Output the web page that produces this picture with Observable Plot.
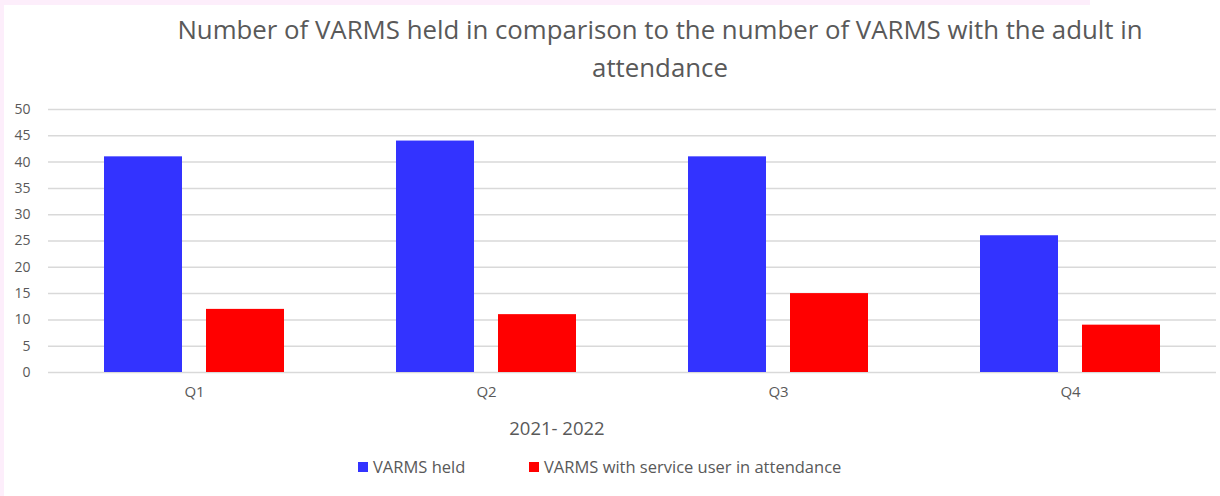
<!DOCTYPE html>
<html>
<head>
<meta charset="utf-8">
<script src="https://cdn.jsdelivr.net/npm/d3@7"></script>
<script src="https://cdn.jsdelivr.net/npm/@observablehq/plot@0.6"></script>
<style>
  html, body { margin: 0; padding: 0; background: #ffffff; }
  #page { position: relative; width: 1220px; height: 496px; overflow: hidden; font-family: "Open Sans", sans-serif; color: #595959; }
  #stripTop { position: absolute; left: 0; top: 0; width: 1090px; height: 5px; background: #fdeefb; }
  #stripLeft { position: absolute; left: 0; top: 0; width: 4px; height: 496px; background: #fdeefb; }
  #title { position: absolute; left: 110px; width: 1100px; top: 10px; text-align: center; font-size: 25.8px; line-height: 38px; color: #595959; }
  #chart { position: absolute; left: 0; top: 95px; }
  #xtitle { position: absolute; left: 457px; width: 200px; top: 415px; text-align: center; font-size: 18.5px; line-height: 25px; color: #595959; }
  #legend { position: absolute; top: 456px; left: 358px; font-size: 16.5px; line-height: 22px; color: #595959; white-space: nowrap; }
  .item { position: absolute; top: 0; display: flex; align-items: center; }
  .sw { width: 10px; height: 10px; margin-right: 5px; display: inline-block; }
</style>
</head>
<body>
<div id="page">
  <div id="stripTop"></div>
  <div id="stripLeft"></div>
  <div id="title">Number of VARMS held in comparison to the number of VARMS with the adult in<br>attendance</div>
  <div id="chart"></div>
  <div id="xtitle">2021- 2022</div>
  <div id="legend"></div>
</div>
<script>
const quarters = ["Q1", "Q2", "Q3", "Q4"];
const seriesNames = ["VARMS held", "VARMS with service user in attendance"];
const varmsHeld = [41, 44, 41, 26];
const varmsAttended = [12, 11, 15, 9];
const seriesColors = ["#3333ff", "#ff0000"];
const yTicks = [0, 5, 10, 15, 20, 25, 30, 35, 40, 45, 50];

const data = [];
quarters.forEach((q, i) => {
  data.push({quarter: q, series: seriesNames[0], value: varmsHeld[i]});
  data.push({quarter: q, series: seriesNames[1], value: varmsAttended[i]});
});

const chart = Plot.plot({
  width: 1220,
  height: 317,
  marginTop: 14,
  marginBottom: 40,
  marginLeft: 48,
  marginRight: 4,
  style: {fontFamily: "'Open Sans', sans-serif", fontSize: "14px", color: "#595959", background: "transparent"},
  fx: {domain: quarters, padding: 0, label: null, axis: "bottom", tickSize: 0, tickPadding: 14},
  x: {domain: seriesNames, paddingInner: 0.233, paddingOuter: 0.534, axis: null},
  y: {domain: [0, 50], ticks: yTicks, label: null, tickSize: 0, tickPadding: 18, tickFormat: d => String(d)},
  color: {domain: seriesNames, range: seriesColors},
  marks: [
    Plot.gridY(yTicks, {stroke: "#d9d9d9", strokeOpacity: 1, strokeWidth: 1.5}),
    Plot.barY(data, {fx: "quarter", x: "series", y: "value", fill: "series"})
  ]
});
chart.querySelectorAll("g[aria-label='fx-axis tick label'] text").forEach(t => t.style.fontSize = "15px");
document.getElementById("chart").appendChild(chart);

const legend = document.getElementById("legend");
const offsets = [0, 171];
seriesNames.forEach((name, i) => {
  const it = document.createElement("div");
  it.className = "item";
  it.style.left = offsets[i] + "px";
  const sw = document.createElement("span");
  sw.className = "sw";
  sw.style.background = seriesColors[i];
  const tx = document.createElement("span");
  tx.textContent = name;
  it.appendChild(sw);
  it.appendChild(tx);
  legend.appendChild(it);
});
</script>
</body>
</html>
